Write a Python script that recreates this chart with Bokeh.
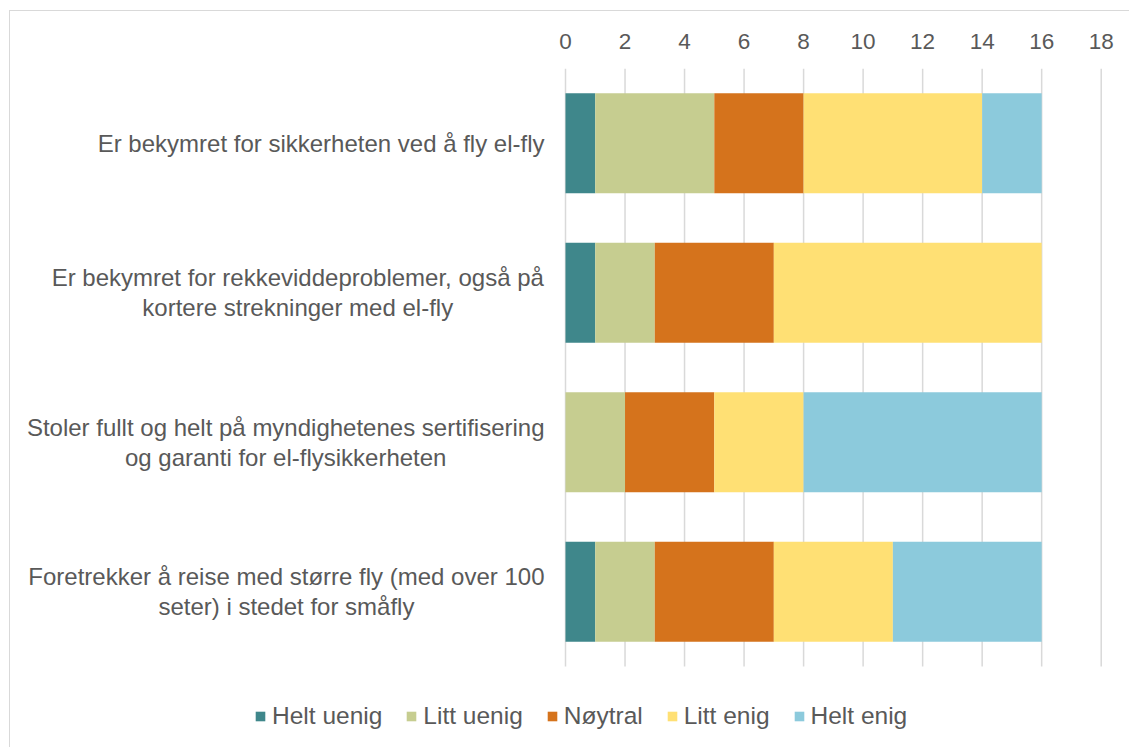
from bokeh.plotting import figure
from bokeh.models import ColumnDataSource, Range1d, FixedTicker, Legend, LegendItem
from bokeh.core.properties import value
from bokeh.embed import file_html
from bokeh.resources import INLINE

categories = [
    "Er bekymret for sikkerheten ved å fly el-fly",
    "Er bekymret for rekkeviddeproblemer, også på\nkortere strekninger med el-fly",
    "Stoler fullt og helt på myndighetenes sertifisering\nog garanti for el-flysikkerheten",
    "Foretrekker å reise med større fly (med over 100\nseter) i stedet for småfly",
]
series = ["Helt uenig", "Litt uenig", "Nøytral", "Litt enig", "Helt enig"]
helt_uenig = [1, 1, 0, 1]
litt_uenig = [4, 2, 2, 2]
noytral = [3, 4, 3, 4]
litt_enig = [6, 9, 3, 4]
helt_enig = [2, 0, 8, 5]
colors = ["#3F878B", "#C6CD90", "#D5731C", "#FFE074", "#8CCADC"]
ticks = [0, 2, 4, 6, 8, 10, 12, 14, 16, 18]

TXT = "#595959"
GRID = "#d9d9d9"
FONT = "Liberation Sans"
CAT_FS = 24.0
LABEL_GAP = 21  # px between label block and the 0 line

# Arial / Liberation Sans advance widths (per 1000 em) for estimating label widths
W = {' ': 278, ',': 278, '-': 333, '(': 333, ')': 333, '0': 556, '1': 556,
     'E': 667, 'S': 667, 'F': 611, 'a': 556, 'b': 556, 'c': 500, 'd': 556,
     'e': 556, 'f': 278, 'g': 556, 'h': 556, 'i': 222, 'j': 222, 'k': 500,
     'l': 222, 'm': 833, 'n': 556, 'o': 556, 'p': 556, 'q': 556, 'r': 333,
     's': 500, 't': 278, 'u': 556, 'v': 500, 'w': 722, 'x': 500, 'y': 500,
     'z': 500, 'å': 556, 'ø': 611}


def block_width(txt):
    return max(sum(W.get(c, 556) for c in line) for line in txt.split("\n")) * CAT_FS / 1000.0


n = len(categories)
# category slots: first category at the top (slot centres n-0.5 ... 0.5)
ypos = [n - i - 0.5 for i in range(n)]

keys = ["s0", "s1", "s2", "s3", "s4"]
source = ColumnDataSource(data=dict(
    y=ypos, cat=categories,
    s0=helt_uenig, s1=litt_uenig, s2=noytral, s3=litt_enig, s4=helt_enig,
))
label_src = ColumnDataSource(data=dict(
    y=ypos, cat=categories,
    xoff=[-(LABEL_GAP + block_width(c) / 2.0) for c in categories],
))
grid_src = ColumnDataSource(data=dict(
    x=ticks, y0=[0] * len(ticks), y1=[n] * len(ticks),
))

# layout (page pixels)
CANVAS_X, CANVAS_Y = 11, 12
WIDTH, HEIGHT = 1120, 737
FRAME_LEFT = 23
FRAME_TOP = 69.3
ZERO_X, MAX_X = 566.0, 1101.7
BARS_BOTTOM = 667.0
ppu = (MAX_X - ZERO_X) / ticks[-1]
x_start = -(ZERO_X - FRAME_LEFT) / ppu
x_end = ticks[-1] + (CANVAS_X + WIDTH - MAX_X) / ppu
ppc = (BARS_BOTTOM - FRAME_TOP) / n
y_start = -(CANVAS_Y + HEIGHT - BARS_BOTTOM) / ppc

p = figure(
    width=WIDTH, height=HEIGHT,
    x_range=Range1d(x_start, x_end),
    y_range=Range1d(y_start, n),
    x_axis_location="above",
    output_backend="svg", toolbar_location=None,
    min_border_left=FRAME_LEFT - CANVAS_X, min_border_right=0,
    min_border_top=int(round(FRAME_TOP - CANVAS_Y)), min_border_bottom=0,
)
p.margin = (CANVAS_Y - 2, 0, 0, CANVAS_X - 2)
p.styles = {"border-left": "1px solid #d9d9d9", "border-top": "1px solid #d9d9d9"}
p.outline_line_color = None
p.background_fill_color = "white"
p.border_fill_color = "white"

# vertical gridlines at the ticks, spanning the bar area only
p.segment(x0="x", x1="x", y0="y0", y1="y1", source=grid_src,
          line_color=GRID, line_width=1.5)

renderers = p.hbar_stack(keys, y="y", height=0.67, color=colors, source=source, line_color=None)

p.text(x=0, y="y", text="cat", x_offset="xoff", source=label_src,
       text_align="center", text_baseline="middle", text_line_height=1.1,
       text_font=value(FONT), text_font_size=f"{CAT_FS}px", text_color=TXT)

p.xaxis.ticker = FixedTicker(ticks=ticks)
p.xaxis.axis_line_color = None
p.xaxis.major_tick_line_color = None
p.xaxis.minor_tick_line_color = None
p.xaxis.major_label_standoff = 14
p.xaxis.major_label_text_font = FONT
p.xaxis.major_label_text_font_size = "22.5px"
p.xaxis.major_label_text_color = TXT

p.yaxis.visible = False
p.xgrid.grid_line_color = None
p.ygrid.grid_line_color = None

items = [LegendItem(label=s, renderers=[r]) for s, r in zip(series, renderers)]
legend = Legend(
    items=items, orientation="horizontal", location=(232, 18),
    glyph_width=12, glyph_height=12, label_standoff=6, spacing=23,
    padding=0, margin=0, border_line_color=None, background_fill_alpha=0,
    label_text_font=FONT, label_text_font_size="24.5px", label_text_color=TXT,
)
p.add_layout(legend)

open("out.html", "w").write(file_html(p, INLINE))
